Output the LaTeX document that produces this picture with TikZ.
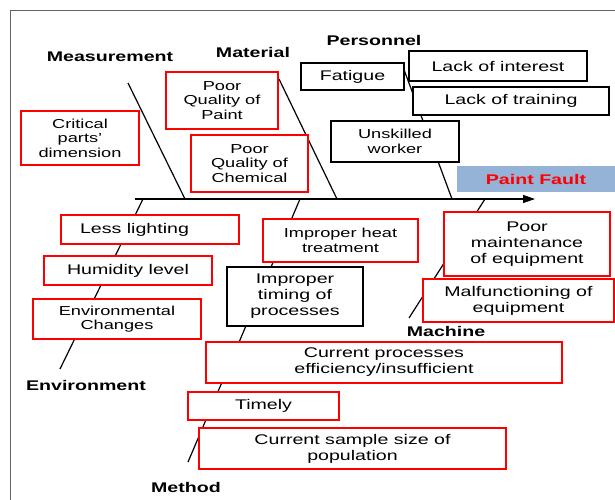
\documentclass[tikz,border=0pt]{standalone}
\usepackage{fontspec}
\setmainfont{Liberation Sans}[FakeStretch=1.4]
\usetikzlibrary{arrows.meta}
\definecolor{faultblue}{RGB}{149,179,215}
\definecolor{framegray}{RGB}{100,100,100}

\begin{document}
\begin{tikzpicture}[x=1pt,y=-1pt,
  cause/.style={draw=red, fill=white, line width=1.3pt, align=center, inner sep=0pt,
    font=\fontsize{14}{16}\selectfont},
  blackcause/.style={cause, draw=black},
  smalltxt/.style={font=\fontsize{13}{14.5}\selectfont},
  bone/.style={line width=1.2pt},
  group/.style={font=\bfseries\fontsize{14}{16}\selectfont}]
\useasboundingbox (0,0) rectangle (615,500);
\draw [framegray, line width=0.8pt] (10,500) -- (10,10) -- (615,10);
% spine and effect
\node [fill=faultblue, minimum width=158pt, minimum height=26pt, inner sep=0pt,
  text=red, font=\bfseries\fontsize{14}{16}\selectfont] (fault) at (536,179) {Paint Fault};
\coordinate (tail) at (135,199);
\coordinate (head) at (535,199);
\draw [bone, -{Triangle[length=12pt,width=8pt]}] (tail) -- (head);
% bones
\coordinate (meastop) at (128,83);   \coordinate (measfoot) at (185,199);
\coordinate (mattop) at (279,79);    \coordinate (matfoot) at (337,199);
\coordinate (perstop) at (403,67);   \coordinate (persfoot) at (452,199);
\coordinate (envroot) at (143,199);  \coordinate (envend) at (60,369);
\coordinate (methroot) at (300,199); \coordinate (methend) at (188,462);
\coordinate (machroot) at (485,199); \coordinate (machend) at (409,318);
\draw [bone] (meastop) -- (measfoot);
\draw [bone] (mattop) -- (matfoot);
\draw [bone] (perstop) -- (persfoot);
\draw [bone] (envroot) -- (envend);
\draw [bone] (methroot) -- (methend);
\draw [bone] (machroot) -- (machend);
% groups
\node [group] (meas) at (110,57) {Measurement};
\node [group] (mat) at (253,52) {Material};
\node [group] (pers) at (374,40) {Personnel};
\node [group] (env) at (86,385) {Environment};
\node [group] (meth) at (186,487) {Method};
\node [group] (mach) at (446,331) {Machine};
% causes
\node [cause, smalltxt, minimum width=118pt, minimum height=54pt] (crit) at (80,138) {Critical\\parts'\\dimension};
\node [cause, smalltxt, minimum width=112pt, minimum height=57pt] (paint) at (222,100.5) {Poor\\Quality of\\Paint};
\node [cause, smalltxt, minimum width=117pt, minimum height=57pt] (chem) at (249.5,163.5) {Poor\\Quality of\\Chemical};
\node [blackcause, minimum width=103pt, minimum height=27pt] (fatigue) at (352.5,76.5) {Fatigue};
\node [blackcause, minimum width=178pt, minimum height=30pt] (interest) at (498,66) {Lack of interest};
\node [blackcause, minimum width=196pt, minimum height=28pt] (training) at (511,101) {Lack of training};
\node [blackcause, smalltxt, minimum width=128pt, minimum height=41pt] (unskilled) at (395,141.5) {Unskilled\\worker};
\node [cause, minimum width=178pt, minimum height=29pt] (lighting) at (150,229.5) {Less lighting\hspace*{31pt}};
\node [cause, minimum width=168pt, minimum height=29pt] (humidity) at (128,270.5) {Humidity level};
\node [cause, smalltxt, minimum width=168pt, minimum height=40pt] (envchange) at (117,319) {Environmental\\Changes};
\node [cause, smalltxt, minimum width=155pt, minimum height=43pt] (heat) at (340.5,240.5) {Improper heat\\treatment};
\node [blackcause, minimum width=136pt, minimum height=59pt] (timing) at (295,296.5) {Improper\\timing of\\processes};
\node [cause, minimum width=356pt, minimum height=41pt] (efficiency) at (384,362.5) {Current processes\\efficiency/insufficient};
\node [cause, minimum width=151pt, minimum height=28pt] (timely) at (263.5,406) {Timely};
\node [cause, minimum width=307pt, minimum height=41pt] (sample) at (352.5,448.5) {Current sample size of\\population};
\node [cause, minimum width=166pt, minimum height=64pt] (maint) at (527,244) {Poor\\maintenance\\of equipment};
\node [cause, minimum width=191pt, minimum height=43pt] (malfunc) at (518.5,300.5) {Malfunctioning of\\equipment};
\end{tikzpicture}
\end{document}
